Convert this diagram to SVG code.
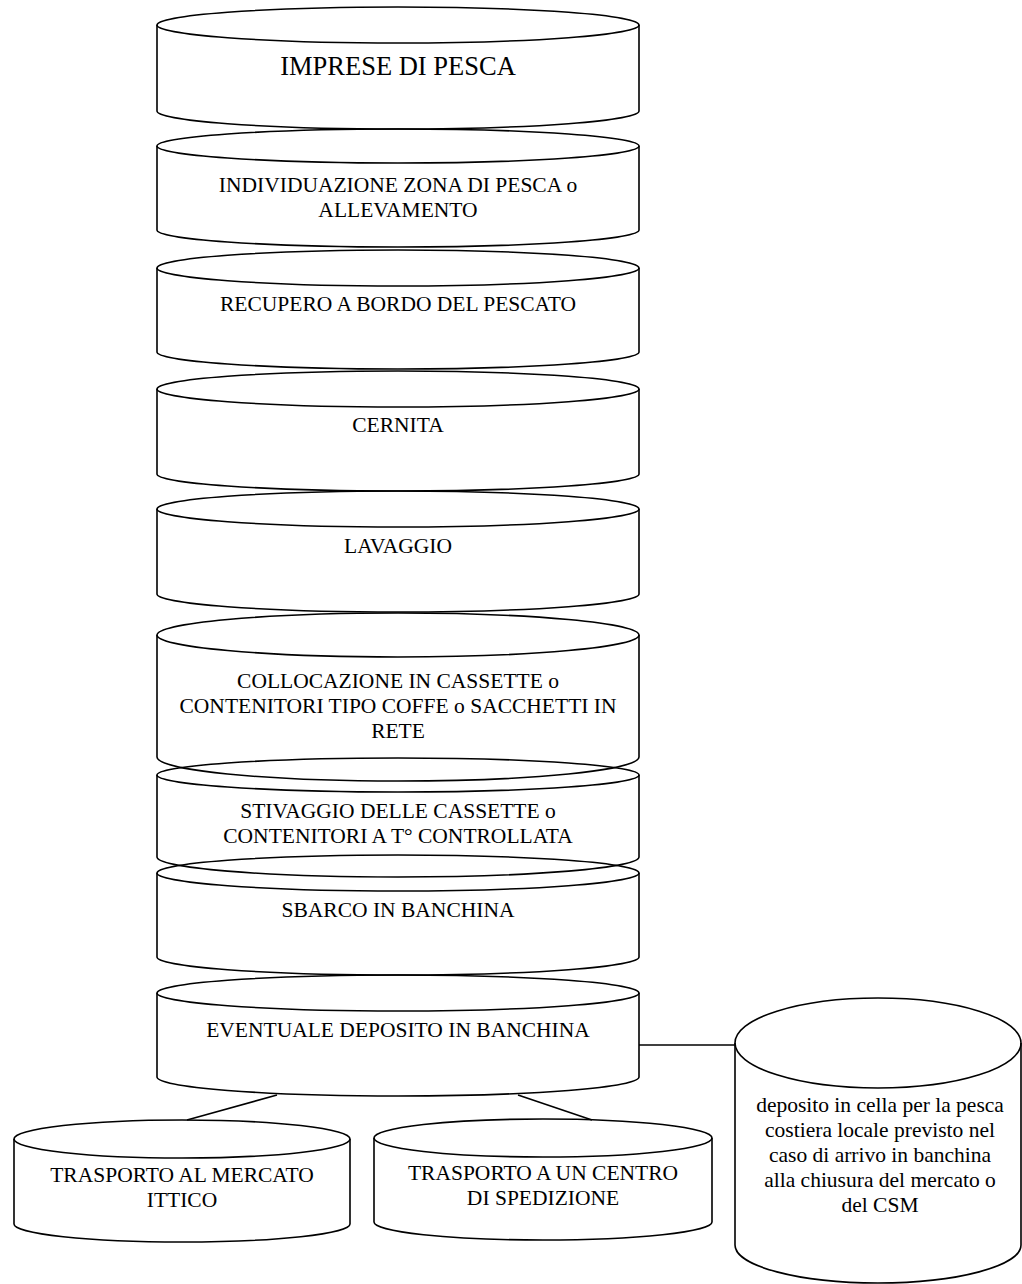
<svg xmlns="http://www.w3.org/2000/svg" width="1022" height="1284" viewBox="0 0 1022 1284">
<style>
.s{fill:none;stroke:#000;stroke-width:1.6}
.t{font-family:"Liberation Serif","Times New Roman",serif;font-size:21.5px;fill:#000;text-anchor:middle}
.big{font-size:26.5px}
.c{stroke:#000;stroke-width:1.6;fill:none}
</style>
<rect width="1022" height="1284" fill="#fff"/>
<g id="n1">
<ellipse class="s" cx="398" cy="25" rx="241" ry="18"/>
<path class="s" d="M157,25 V111 A241,18 0 0 0 639,111 V25"/>
<text class="t big" x="398" y="75">IMPRESE DI PESCA</text>
</g>
<g id="n2">
<ellipse class="s" cx="398" cy="146" rx="241" ry="17"/>
<path class="s" d="M157,146 V230 A241,17 0 0 0 639,230 V146"/>
<text class="t" x="398" y="192">INDIVIDUAZIONE ZONA DI PESCA o</text>
<text class="t" x="398" y="217">ALLEVAMENTO</text>
</g>
<g id="n3">
<ellipse class="s" cx="398" cy="268" rx="241" ry="18"/>
<path class="s" d="M157,268 V352 A241,17 0 0 0 639,352 V268"/>
<text class="t" x="398" y="311">RECUPERO A BORDO DEL PESCATO</text>
</g>
<g id="n4">
<ellipse class="s" cx="398" cy="389" rx="241" ry="18"/>
<path class="s" d="M157,389 V474 A241,17 0 0 0 639,474 V389"/>
<text class="t" x="398" y="432">CERNITA</text>
</g>
<g id="n5">
<ellipse class="s" cx="398" cy="509" rx="241" ry="18"/>
<path class="s" d="M157,509 V594 A241,18 0 0 0 639,594 V509"/>
<text class="t" x="398" y="553">LAVAGGIO</text>
</g>
<g id="n6">
<ellipse class="s" cx="398" cy="635" rx="241" ry="22"/>
<path class="s" d="M157,635 V757 A241,24 0 0 0 639,757 V635"/>
<text class="t" x="398" y="688">COLLOCAZIONE IN CASSETTE o</text>
<text class="t" x="398" y="713">CONTENITORI TIPO COFFE o SACCHETTI IN</text>
<text class="t" x="398" y="738">RETE</text>
</g>
<g id="n7">
<ellipse class="s" cx="398" cy="775" rx="241" ry="17"/>
<path class="s" d="M157,775 V857 A241,20 0 0 0 639,857 V775"/>
<text class="t" x="398" y="818">STIVAGGIO DELLE CASSETTE o</text>
<text class="t" x="398" y="843">CONTENITORI A T° CONTROLLATA</text>
</g>
<g id="n8">
<ellipse class="s" cx="398" cy="873" rx="241" ry="18"/>
<path class="s" d="M157,873 V957 A241,18 0 0 0 639,957 V873"/>
<text class="t" x="398" y="917">SBARCO IN BANCHINA</text>
</g>
<g id="n9">
<ellipse class="s" cx="398" cy="993" rx="241" ry="18"/>
<path class="s" d="M157,993 V1077 A241,19 0 0 0 639,1077 V993"/>
<text class="t" x="398" y="1037">EVENTUALE DEPOSITO IN BANCHINA</text>
</g>
<g id="n10">
<ellipse class="s" cx="182" cy="1139" rx="168" ry="19"/>
<path class="s" d="M14,1139 V1224 A168,18 0 0 0 350,1224 V1139"/>
<text class="t" x="182" y="1182">TRASPORTO AL MERCATO</text>
<text class="t" x="182" y="1207">ITTICO</text>
</g>
<g id="n11">
<ellipse class="s" cx="543" cy="1138" rx="169" ry="19"/>
<path class="s" d="M374,1138 V1222 A169,18 0 0 0 712,1222 V1138"/>
<text class="t" x="543" y="1180">TRASPORTO A UN CENTRO</text>
<text class="t" x="543" y="1205">DI SPEDIZIONE</text>
</g>
<g id="n12">
<ellipse class="s" cx="878" cy="1043" rx="143" ry="45"/>
<path class="s" d="M735,1043 V1245 A143,38 0 0 0 1021,1245 V1043"/>
<text class="t" x="880" y="1112">deposito in cella per la pesca</text>
<text class="t" x="880" y="1137">costiera locale previsto nel</text>
<text class="t" x="880" y="1162">caso di arrivo in banchina</text>
<text class="t" x="880" y="1187">alla chiusura del mercato o</text>
<text class="t" x="880" y="1212">del CSM</text>
</g>
<g id="connectors">
<line class="c" x1="277" y1="1095" x2="187" y2="1120"/>
<line class="c" x1="518" y1="1095" x2="592" y2="1120"/>
<line class="c" x1="639" y1="1045" x2="735" y2="1045"/>
</g>
</svg>
